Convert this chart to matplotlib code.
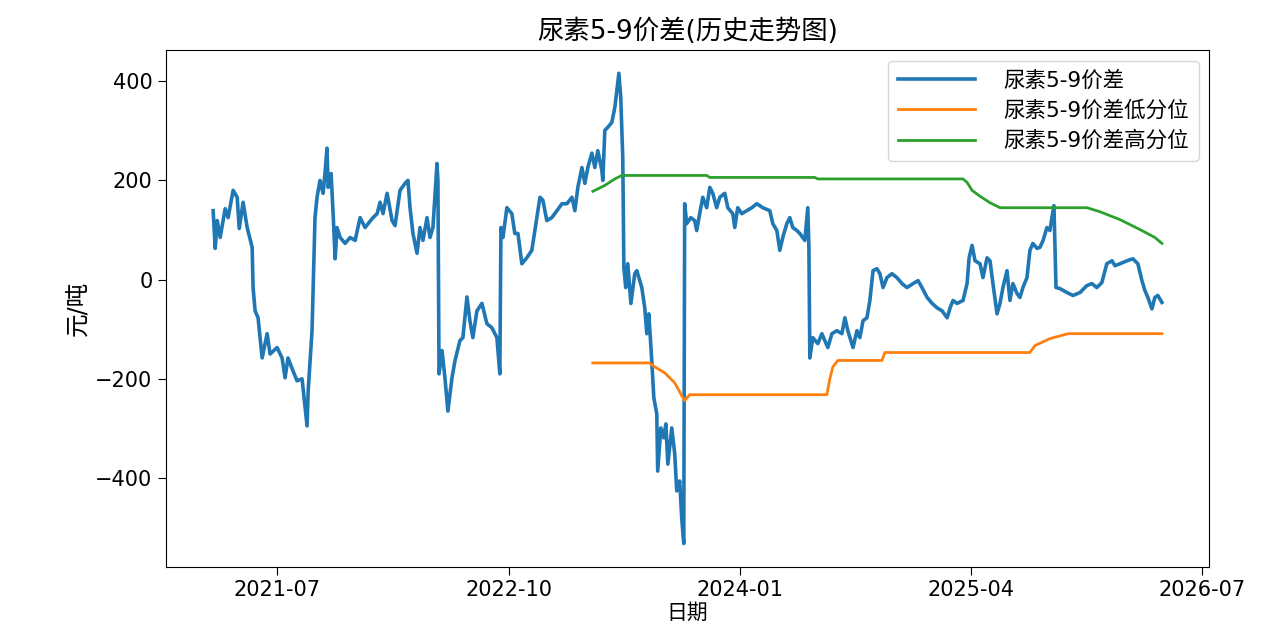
import datetime as dt
import matplotlib
matplotlib.use("Agg")
import matplotlib.pyplot as plt
import matplotlib.dates as mdates
import matplotlib.ticker as mticker

plt.rcParams['font.family'] = ['DejaVu Sans', 'Noto Sans CJK SC']
plt.rcParams['axes.unicode_minus'] = True

# ---- data (dates as decimal years) ----
spread_t = [
 2021.150, 2021.161, 2021.172, 2021.188, 2021.215, 2021.231, 2021.258, 2021.280, 2021.291, 2021.312,
 2021.334, 2021.361, 2021.366, 2021.377, 2021.393, 2021.415, 2021.442, 2021.458, 2021.496, 2021.523,
 2021.539, 2021.555, 2021.582, 2021.604, 2021.631, 2021.642, 2021.658, 2021.664, 2021.685, 2021.701,
 2021.712, 2021.728, 2021.745, 2021.755, 2021.766, 2021.772, 2021.788, 2021.799, 2021.810, 2021.820,
 2021.837, 2021.864, 2021.891, 2021.918, 2021.945, 2021.972, 2022.010, 2022.037, 2022.053, 2022.069,
 2022.091, 2022.118, 2022.134, 2022.161, 2022.188, 2022.204, 2022.215, 2022.231, 2022.253, 2022.269,
 2022.285, 2022.307, 2022.323, 2022.339, 2022.361, 2022.366, 2022.372, 2022.388, 2022.404, 2022.420,
 2022.442, 2022.458, 2022.485, 2022.501, 2022.523, 2022.539, 2022.555, 2022.577, 2022.604, 2022.631,
 2022.658, 2022.685, 2022.701, 2022.707, 2022.718, 2022.739, 2022.766, 2022.782, 2022.799, 2022.820,
 2022.847, 2022.874, 2022.901, 2022.918, 2022.934, 2022.955, 2022.982, 2023.010, 2023.037, 2023.064,
 2023.091, 2023.107, 2023.123, 2023.145, 2023.161, 2023.177, 2023.199, 2023.215, 2023.231, 2023.253,
 2023.258, 2023.269, 2023.285, 2023.307, 2023.323, 2023.334, 2023.345, 2023.355, 2023.366, 2023.372,
 2023.382, 2023.393, 2023.410, 2023.431, 2023.442, 2023.469, 2023.485, 2023.496, 2023.507, 2023.523,
 2023.534, 2023.550, 2023.555, 2023.572, 2023.588, 2023.599, 2023.610, 2023.631, 2023.647, 2023.658,
 2023.674, 2023.685, 2023.696, 2023.701, 2023.712, 2023.734, 2023.755, 2023.766, 2023.782, 2023.799,
 2023.820, 2023.837, 2023.853, 2023.874, 2023.891, 2023.918, 2023.934, 2023.961, 2023.972, 2023.988,
 2024.010, 2024.037, 2024.064, 2024.091, 2024.123, 2024.161, 2024.177, 2024.199, 2024.215, 2024.231,
 2024.253, 2024.269, 2024.285, 2024.307, 2024.323, 2024.350, 2024.366, 2024.372, 2024.377, 2024.393,
 2024.420, 2024.442, 2024.458, 2024.474, 2024.496, 2024.523, 2024.550, 2024.566, 2024.582, 2024.610,
 2024.631, 2024.647, 2024.664, 2024.685, 2024.701, 2024.718, 2024.739, 2024.755, 2024.772, 2024.793,
 2024.820, 2024.847, 2024.874, 2024.901, 2024.934, 2024.961, 2024.982, 2025.010, 2025.037, 2025.064,
 2025.091, 2025.118, 2025.134, 2025.150, 2025.172, 2025.204, 2025.226, 2025.237, 2025.253, 2025.269,
 2025.296, 2025.312, 2025.334, 2025.350, 2025.366, 2025.388, 2025.404, 2025.420, 2025.442, 2025.458,
 2025.474, 2025.496, 2025.512, 2025.528, 2025.550, 2025.566, 2025.582, 2025.604, 2025.620, 2025.637,
 2025.658, 2025.674, 2025.685, 2025.696, 2025.707, 2025.728, 2025.766, 2025.799, 2025.837, 2025.874,
 2025.901, 2025.928, 2025.955, 2025.982, 2026.010, 2026.026, 2026.053, 2026.091, 2026.123, 2026.150,
 2026.172, 2026.188, 2026.204, 2026.226, 2026.242, 2026.258, 2026.280,
]
spread_v = [
 139, 63, 119, 85, 143, 125, 180, 166, 103, 156,
 105, 65, -16, -63, -77, -158, -109, -150, -137, -158,
 -198, -158, -184, -204, -200, -238, -295, -224, -103, 125,
 166, 200, 174, 214, 265, 186, 214, 133, 42, 105,
 85, 73, 85, 79, 125, 105, 123, 133, 156, 133,
 174, 119, 109, 180, 194, 200, 145, 93, 53, 105,
 79, 125, 85, 105, 234, 200, -190, -143, -198, -265,
 -198, -164, -123, -117, -35, -83, -117, -63, -48, -89,
 -97, -117, -190, 105, 85, 145, 133, 93, 93, 32,
 44, 59, 125, 166, 160, 119, 125, 139, 153, 153,
 166, 139, 186, 226, 194, 226, 255, 226, 260, 220,
 200, 301, 307, 317, 347, 382, 416, 368, 246, 24,
 -16, 32, -48, 12, 18, -16, -57, -109, -69, -164,
 -238, -271, -386, -299, -319, -291, -372, -299, -351, -426,
 -406, -481, -532, 153, 113, 125, 119, 99, 133, 166,
 145, 186, 174, 145, 166, 174, 145, 133, 105, 145,
 133, 139, 145, 153, 145, 139, 113, 99, 59, 85,
 113, 125, 105, 99, 93, 79, 145, 65, -158, -117,
 -129, -109, -123, -137, -109, -103, -109, -77, -103, -137,
 -103, -117, -83, -77, -42, 18, 22, 12, -16, 4,
 12, 4, -8, -16, -8, -2, -16, -36, -48, -57,
 -63, -77, -57, -42, -48, -42, -8, 44, 69, 38,
 32, 4, 44, 38, -8, -69, -48, -16, 18, -42,
 -8, -28, -36, -16, 4, 59, 73, 63, 65, 79,
 105, 99, 125, 149, -16, -18, -26, -32, -26, -12,
 -8, -16, -6, 32, 38, 28, 32, 38, 42, 32,
 -2, -22, -36, -59, -36, -32, -46,
]

low_t = [2023.204, 2023.512, 2023.539, 2023.593, 2023.647, 2023.685, 2023.701, 2023.728,
         2024.469, 2024.485, 2024.501, 2024.528, 2024.766, 2024.782, 2025.566, 2025.593,
         2025.674, 2025.772, 2026.280]
low_v = [-168, -168, -176, -188, -208, -234, -244, -232,
         -232, -200, -176, -163, -163, -147, -147, -133,
         -119, -109, -109]

high_t = [2023.204, 2023.269, 2023.323, 2023.361, 2023.820, 2023.837, 2024.404, 2024.420,
          2025.204, 2025.226, 2025.253, 2025.296, 2025.350, 2025.404, 2025.874, 2025.944,
          2026.053, 2026.161, 2026.242, 2026.280]
high_v = [178, 190, 203, 210, 210, 206, 206, 203,
          203, 196, 180, 168, 155, 145, 145, 137,
          121, 101, 85, 73]

x_ticks = ["2021-07", "2022-10", "2024-01", "2025-04", "2026-07"]
y_ticks = [-400, -200, 0, 200, 400]
series_names = ["尿素5-9价差", "尿素5-9价差低分位", "尿素5-9价差高分位"]


def to_date(t):
    y = int(t)
    start = dt.datetime(y, 1, 1)
    n = (dt.datetime(y + 1, 1, 1) - start).days
    return start + dt.timedelta(days=(t - y) * n)


fig = plt.figure(figsize=(12.65, 6.30), dpi=100)
ax = fig.add_axes([0.131, 0.100, 0.825, 0.821])

ax.plot([to_date(t) for t in spread_t], spread_v, color='#1f77b4', lw=2.6, label=series_names[0])
ax.plot([to_date(t) for t in low_t], low_v, color='#ff7f0e', lw=2.0, label=series_names[1])
ax.plot([to_date(t) for t in high_t], high_v, color='#2ca02c', lw=2.0, label=series_names[2])

ax.xaxis.set_major_locator(mticker.FixedLocator(
    [mdates.date2num(dt.datetime.strptime(s, "%Y-%m")) for s in x_ticks]))
ax.xaxis.set_major_formatter(mdates.DateFormatter('%Y-%m'))
ax.set_yticks(y_ticks)
ax.tick_params(labelsize=15, length=6)

ax.set_title("尿素5-9价差(历史走势图)", fontsize=19, pad=8)
ax.set_xlabel("日期", fontsize=15, labelpad=2)
ax.set_ylabel("元/吨", fontsize=17)

ax.legend(loc='upper right', fontsize=15.5, handlelength=3.6, handletextpad=1.3,
          borderpad=0.45, labelspacing=0.45)

fig.savefig("out.png", dpi=100)
